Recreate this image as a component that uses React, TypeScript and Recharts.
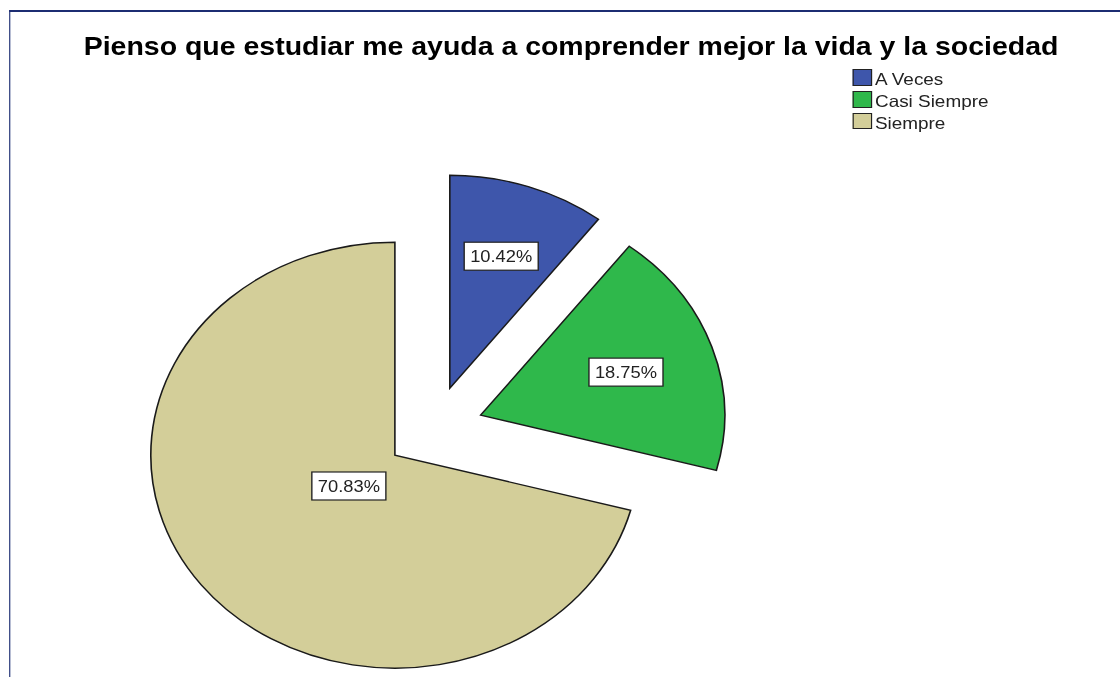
import React from 'react';
import { PieChart, Pie, Cell, Sector, Legend } from 'recharts';

// survey answers (48 respondents)
const categories = ['A Veces', 'Casi Siempre', 'Siempre'];
const counts = [5, 9, 34];
const sliceColors = ['#3e56ab', '#2fb84b', '#d3ce99'];
const chartTitle = 'Pienso que estudiar me ayuda a comprender mejor la vida y la sociedad';

const data = categories.map((name, i) => ({ name, value: counts[i] }));

// the original export is stretched horizontally
const STRETCH = 1.146;
const INNER_W = 1120 / STRETCH;
const EXPLODE = 43;
const RAD = Math.PI / 180;
const FONT = '"Liberation Sans", Arial, sans-serif';
const FRAME = '#1c2d72';

const ExplodedSector = (props: any) => {
  const { cx, cy, midAngle, outerRadius, startAngle, endAngle, fill } = props;
  const dx = EXPLODE * Math.cos(-midAngle * RAD);
  const dy = EXPLODE * Math.sin(-midAngle * RAD);
  return (
    <Sector
      cx={cx + dx}
      cy={cy + dy}
      innerRadius={0}
      outerRadius={outerRadius}
      startAngle={startAngle}
      endAngle={endAngle}
      fill={fill}
      stroke="#1a1a1a"
      strokeWidth={1.4}
    />
  );
};

const renderLabel = (props: any) => {
  const { cx, cy, midAngle, outerRadius, percent } = props;
  // label sits on the centroid of the (exploded) slice
  const half = percent * Math.PI;
  const centroid = (2 * outerRadius * Math.sin(half)) / (3 * half);
  const d = EXPLODE + centroid;
  const x = cx + d * Math.cos(-midAngle * RAD);
  const y = cy + d * Math.sin(-midAngle * RAD);
  const w = 64.6;
  const h = 28;
  return (
    <g>
      <rect x={x - w / 2} y={y - h / 2} width={w} height={h} fill="#ffffff" stroke="#222" strokeWidth={1.2} />
      <text
        x={x}
        y={y + 6}
        textAnchor="middle"
        fontFamily={FONT}
        fontSize={16}
        fill="#222"
      >
        {(percent * 100).toFixed(2)}%
      </text>
    </g>
  );
};

const LegendBox = () => (
  <div style={{ fontFamily: FONT, fontSize: 16.5, color: '#222' }}>
    {categories.map((c, i) => (
      <div key={c} style={{ height: 21.8, lineHeight: '21.8px', display: 'flex', alignItems: 'flex-start' }}>
        <span
          style={{
            width: 15,
            height: 14.5,
            marginRight: 3,
            background: sliceColors[i],
            border: '1px solid #222',
            display: 'inline-block',
          }}
        />
        <span>{c}</span>
      </div>
    ))}
  </div>
);

export default function App() {
  return (
    <div style={{ position: 'absolute', left: 0, top: 0, width: 1120, height: 677, overflow: 'hidden', background: '#fff' }}>
      <div
        style={{
          position: 'relative',
          width: INNER_W,
          height: 677,
          transform: `scaleX(${STRETCH})`,
          transformOrigin: '0 0',
        }}
      >
        {/* frame lines (cropped on the right and bottom) */}
        <div style={{ position: 'absolute', left: 7.6, top: 10, width: 1000, height: 2, background: FRAME }} />
        <div style={{ position: 'absolute', left: 7.6, top: 10, width: 1.8, height: 700, background: FRAME }} />
        <div
          style={{
            position: 'absolute',
            left: 0,
            top: 35,
            width: 996.6,
            textAlign: 'center',
            fontFamily: FONT,
            fontWeight: 'bold',
            fontSize: 24.85,
            lineHeight: 1,
            color: '#000',
            whiteSpace: 'nowrap',
          }}
        >
          {chartTitle}
        </div>
        <PieChart
          width={INNER_W}
          height={677}
          margin={{ top: 0, right: 0, bottom: 0, left: 0 }}
          style={{ position: 'absolute', left: 0, top: 0 }}
        >
          <Pie
            data={data}
            dataKey="value"
            nameKey="name"
            cx={378.7}
            cy={429}
            outerRadius={213}
            startAngle={90}
            endAngle={-270}
            stroke="#1a1a1a"
            shape={ExplodedSector}
            label={renderLabel}
            labelLine={false}
            isAnimationActive={false}
          >
            {data.map((d, i) => (
              <Cell key={d.name} fill={sliceColors[i]} />
            ))}
          </Pie>
          <Legend
            content={<LegendBox />}
            wrapperStyle={{ position: 'absolute', left: 743.5, top: 69.3, width: 200 }}
          />
        </PieChart>
      </div>
    </div>
  );
}
